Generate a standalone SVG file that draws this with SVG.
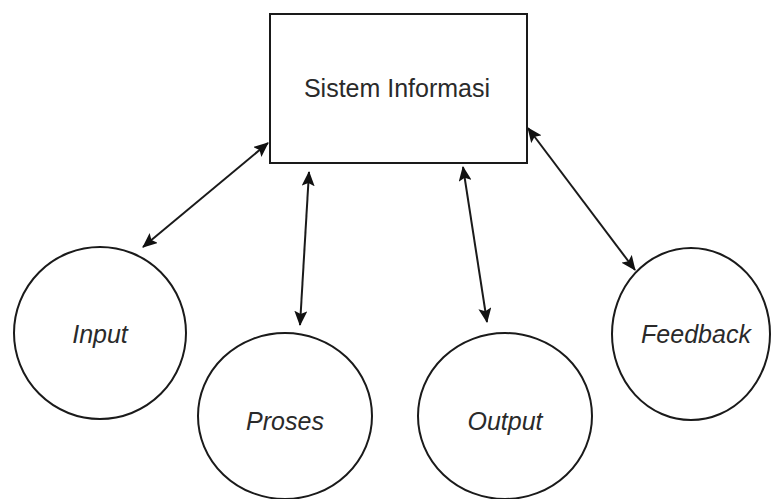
<svg xmlns="http://www.w3.org/2000/svg" width="772" height="499" viewBox="0 0 772 499">
  <style>
    .shape { fill: #ffffff; stroke: #1a1a1a; stroke-width: 2; }
    .label { font-family: "Liberation Sans", Arial, sans-serif; font-size: 25px; fill: #2a2a2a; text-anchor: middle; }
    .it { font-style: italic; }
    .link { stroke: #1a1a1a; stroke-width: 2; fill: none; marker-start: url(#head); marker-end: url(#head); }
  </style>
  <defs>
    <!-- double-headed connector tip -->
    <marker id="head" viewBox="0 0 15 13" refX="14" refY="6.5" markerWidth="15" markerHeight="13" markerUnits="userSpaceOnUse" orient="auto-start-reverse">
      <path d="M0,0 L15,6.5 L0,13 L3,6.5 Z" fill="#111"/>
    </marker>
  </defs>

  <rect width="772" height="499" fill="#ffffff"/>

  <g id="connectors">
    <line class="link" x1="143" y1="247" x2="268" y2="143"/>
    <line class="link" x1="300" y1="325" x2="309" y2="172"/>
    <line class="link" x1="487" y1="322" x2="463" y2="167"/>
    <line class="link" x1="635" y1="270" x2="528" y2="128"/>
  </g>

  <g id="sistem-informasi">
    <rect class="shape" x="270" y="14" width="257" height="149"/>
    <text class="label" x="397" y="97">Sistem Informasi</text>
  </g>

  <g id="input">
    <ellipse class="shape" cx="100" cy="333" rx="86" ry="86"/>
    <text class="label it" x="100" y="343">Input</text>
  </g>

  <g id="proses">
    <ellipse class="shape" cx="285" cy="416" rx="87" ry="83"/>
    <text class="label it" x="285" y="430">Proses</text>
  </g>

  <g id="output">
    <ellipse class="shape" cx="505" cy="416" rx="87" ry="83"/>
    <text class="label it" x="505" y="430">Output</text>
  </g>

  <g id="feedback">
    <ellipse class="shape" cx="691" cy="334" rx="79" ry="86"/>
    <text class="label it" x="696" y="343">Feedback</text>
  </g>
</svg>
